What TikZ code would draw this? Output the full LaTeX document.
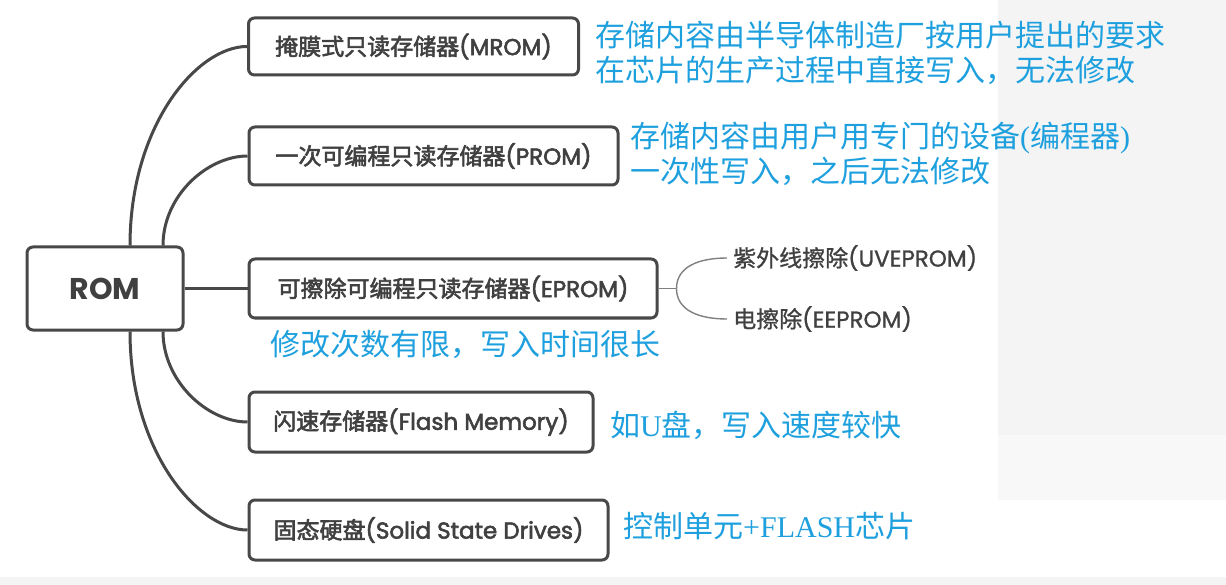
\documentclass[tikz,border=0pt]{standalone}
\usepackage{fontspec}
\newfontfamily\cjk{Noto Sans CJK SC}
\newfontfamily\cjkm{Noto Sans CJK SC}[FakeBold=2.5]
\newfontfamily\cjks{Noto Sans CJK SC}[FakeBold=1]
\newfontfamily\pop{Poppins}[FakeBold=1]
\newfontfamily\popm{Poppins}[FakeBold=2.5]
\newfontfamily\ser{Liberation Serif}
\definecolor{notec}{RGB}{30,160,222}
\definecolor{ink}{RGB}{64,64,64}
\definecolor{edgec}{RGB}{72,72,72}
\definecolor{panel}{RGB}{244,244,244}
\newcommand\zhm[1]{{\cjkm #1}}
\newcommand\zhs[1]{{\cjks #1}}
\newcommand\zh[1]{{\cjk #1}}
\newcommand\lam[1]{{\popm #1}}
\newcommand\la[1]{{\pop #1}}
\newcommand\se[1]{{\ser #1}}
\tikzset{
  box/.style={draw=edgec, line width=3pt, rounded corners=6pt, fill=white, text=ink,
    inner sep=0pt, font=\fontsize{23}{28}\selectfont},
  conn/.style={draw=edgec, line width=3pt},
  subconn/.style={draw=gray, line width=1.4pt},
  subtext/.style={text=ink, font=\fontsize{23}{28}\selectfont, anchor=west, inner xsep=6pt, inner ysep=0pt},
  notetext/.style={text=notec, font=\fontsize{30}{35}\selectfont, anchor=west, inner sep=0pt, align=left},
}
\begin{document}
\begin{tikzpicture}[x=1pt,y=-1pt]
\useasboundingbox (0,0) rectangle (1226,585);
\fill[white] (0,0) rectangle (1226,585);
\fill[panel] (998,0) rectangle (1226,435);
\fill[panel!60!white] (998,435) rectangle (1226,500);
\fill[panel] (0,577) rectangle (1226,585);

% main boxes
\node[box, minimum width=156pt, minimum height=83pt] (rom) at (105,288.5)
  {\fontspec{Poppins}\bfseries\fontsize{30}{34}\selectfont ROM};
\node[box, minimum width=330pt, minimum height=57pt] (mrom) at (413.5,46.5)
  {\zhm{掩膜式只读存储器}\lam{(MROM)}};
\node[box, minimum width=369pt, minimum height=58pt] (prom) at (433.5,156)
  {\zhm{一次可编程只读存储器}\lam{(PROM)}};
\node[box, minimum width=408pt, minimum height=59pt] (eprom) at (453,288.5)
  {\zhm{可擦除可编程只读存储器}\lam{(EPROM)}};
\node[box, minimum width=344pt, minimum height=60pt] (flash) at (421,422)
  {\zhm{闪速存储器}\lam{(Flash Memory)}};
\node[box, minimum width=359pt, minimum height=60pt] (ssd) at (428.5,530)
  {\zhm{固态硬盘}\lam{(Solid State Drives)}};

% sub items of EPROM
\node[subtext] (uv) at (727,258) {\zhs{紫外线擦除}\la{(UVEPROM)}};
\node[subtext] (ee) at (727,319) {\zhs{电擦除}\la{(EEPROM)}};
\coordinate (fork) at ([xshift=18pt]eprom.east);

% connectors
\draw[conn] ([xshift=25pt]rom.north) .. controls +(0,-120) and +(-50,0) .. (mrom.west);
\draw[conn] ([xshift=58pt]rom.north) .. controls +(0,-50) and +(-40,0) .. (prom.west);
\draw[conn] (rom.east) -- (eprom.west);
\draw[conn] ([xshift=58pt]rom.south) .. controls +(0,50) and +(-40,0) .. (flash.west);
\draw[conn] ([xshift=25pt]rom.south) .. controls +(0,120) and +(-50,0) .. (ssd.west);

\draw[subconn] (eprom.east) -- (fork);
\draw[subconn] (fork) .. controls +(0,-22) and +(-28,0) .. (uv.west);
\draw[subconn] (fork) .. controls +(0,22) and +(-28,0) .. (ee.west);

% notes
\node[notetext] (n1) at (595,52.5)
  {\zh{存储内容由半导体制造厂按用户提出的要求}\\\zh{在芯片的生产过程中直接写入，无法修改}};
\node[notetext] (n2) at (630,154)
  {\zh{存储内容由用户用专门的设备}\se{(}\zh{编程器}\se{)}\\\zh{一次性写入，之后无法修改}};
\node[notetext] (n3) at (270,344) {\zh{修改次数有限，写入时间很长}};
\node[notetext] (n4) at (610,425) {\zh{如}\se{U}\zh{盘，写入速度较快}};
\node[notetext] (n5) at (623,526) {\zh{控制单元}\se{+FLASH}\zh{芯片}};
\end{tikzpicture}
\end{document}
